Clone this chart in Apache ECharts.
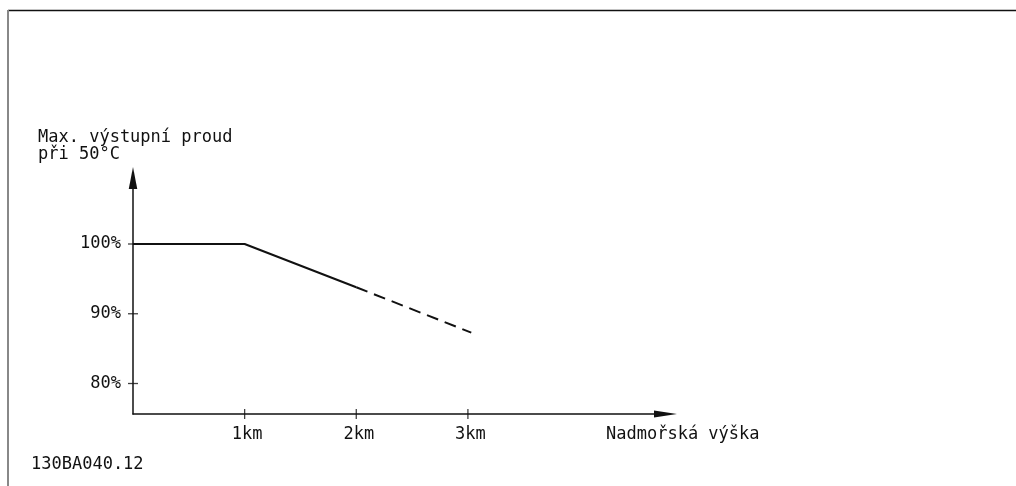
<!DOCTYPE html>
<html>
<head>
<meta charset="utf-8">
<script src="https://cdn.jsdelivr.net/npm/echarts@6/dist/echarts.min.js"></script>
<style>
  html, body { margin: 0; padding: 0; background: #fff; }
  #chart { width: 1016px; height: 486px; }
</style>
</head>
<body>
<div id="chart"></div>
<script>
// altitude in km, output current in %
var solidLine = [[0, 100], [1, 100], [2, 93.8]];
var dashedLine = [[2, 93.8], [3.03, 87.3]];
var xTicks = [1, 2, 3];
var yTicks = [80, 90, 100];
var yTitle = ['Max. výstupní proud', 'při 50°C'];
var xTitle = 'Nadmořská výška';
var drawingNo = '130BA040.12';

var xMin = 0, xMax = 4.77;
var yMin = 75.63, yMax = 109.46;
var font = 'DejaVu Sans Mono';
var ink = '#111';

var myChart = echarts.init(document.getElementById('chart'));

// tick marks crossing the axis lines, drawn as tiny bars on the axis
var xTickMarks = xTicks.map(function (v) { return [v, yMin]; });
var yTickMarks = yTicks.map(function (v) { return [xMin, v]; });

var option = {
  animation: false,
  grid: { left: 133, top: 178, width: 532.5, bottom: 72 },
  xAxis: {
    type: 'value', min: xMin, max: xMax,
    splitLine: { show: false },
    axisLine: { lineStyle: { color: ink, width: 1.5 }, symbol: ['none', 'triangle'], symbolSize: [7, 23] },
    axisTick: { show: false },
    axisLabel: {
      customValues: xTicks, margin: 12, color: ink,
      fontFamily: font, fontSize: 17, padding: [0, 0, 0, 5],
      formatter: function (v) { return v + 'km'; }
    }
  },
  yAxis: {
    type: 'value', min: yMin, max: yMax,
    splitLine: { show: false },
    axisLine: { lineStyle: { color: ink, width: 1.5 }, symbol: ['none', 'triangle'], symbolSize: [8.5, 22] },
    axisTick: { show: false },
    axisLabel: {
      customValues: yTicks, margin: 12, color: ink,
      fontFamily: font, fontSize: 17,
      formatter: '{value}%'
    }
  },
  series: [
    {
      type: 'line', data: solidLine, symbol: 'none',
      lineStyle: { color: ink, width: 2 }
    },
    {
      type: 'line', data: dashedLine, symbol: 'none',
      lineStyle: { color: ink, width: 2, type: [12, 7] }
    },
    {
      type: 'scatter', data: xTickMarks, symbol: 'rect', symbolSize: [1.3, 10],
      itemStyle: { color: ink }, clip: false, silent: true
    },
    {
      type: 'scatter', data: yTickMarks, symbol: 'rect', symbolSize: [10, 1.3],
      itemStyle: { color: ink }, clip: false, silent: true
    }
  ],
  graphic: [
    { type: 'line', shape: { x1: 8, y1: 10.5, x2: 1016, y2: 10.5 }, style: { stroke: ink, lineWidth: 1.5 } },
    { type: 'line', shape: { x1: 8, y1: 10, x2: 8, y2: 486 }, style: { stroke: '#888', lineWidth: 2 } },
    { type: 'text', left: 38, top: 129, style: { text: yTitle[0], font: '17px ' + font, fill: ink } },
    { type: 'text', left: 38, top: 146, style: { text: yTitle[1], font: '17px ' + font, fill: ink } },
    { type: 'text', left: 606, top: 426, style: { text: xTitle, font: '17px ' + font, fill: ink } },
    { type: 'text', left: 31, top: 456, style: { text: drawingNo, font: '17px ' + font, fill: ink } }
  ]
};

myChart.setOption(option);
</script>
</body>
</html>
